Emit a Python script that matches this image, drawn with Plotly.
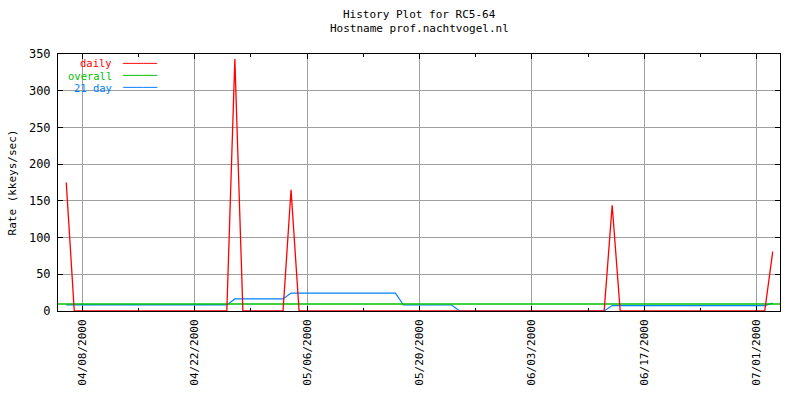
import plotly.graph_objects as go

# ---- data ----
daily_dates = ["2000-04-06", "2000-04-07", "2000-04-26", "2000-04-27", "2000-04-28",
               "2000-05-03", "2000-05-04", "2000-05-05", "2000-06-12", "2000-06-13",
               "2000-06-14", "2000-07-02", "2000-07-03"]
daily_vals = [175, 0, 0, 343, 0, 0, 165, 0, 0, 144, 0, 0, 81]

overall_dates = ["2000-04-04 23:20", "2000-07-03 21:40"]
overall_vals = [9.5, 9.5]

avg21_dates = ["2000-04-06", "2000-04-26", "2000-04-27", "2000-05-03", "2000-05-04",
               "2000-05-17", "2000-05-18", "2000-05-24", "2000-05-25", "2000-06-12",
               "2000-06-13", "2000-07-02", "2000-07-03"]
avg21_vals = [8.3, 8.3, 16.4, 16.4, 24.4, 24.4, 8.2, 8.2, 0, 0, 7.4, 7.4, 10.8]

x_range = ["2000-04-04 23:20", "2000-07-03 21:40"]
x_ticks = ["2000-04-08", "2000-04-22", "2000-05-06", "2000-05-20",
           "2000-06-03", "2000-06-17", "2000-07-01"]
y_ticks = [0, 50, 100, 150, 200, 250, 300, 350]

title_lines = ["History Plot for RC5-64", "Hostname prof.nachtvogel.nl"]
series_names = ["daily", "overall", "21 day"]
series_colors = ["#ff0000", "#00c000", "#0080ff"]

FONT = "DejaVu Sans Mono"

fig = go.Figure()
fig.add_trace(go.Scatter(x=avg21_dates, y=avg21_vals, mode="lines",
                         line=dict(color=series_colors[2], width=1.2), name=series_names[2]))
fig.add_trace(go.Scatter(x=overall_dates, y=overall_vals, mode="lines",
                         line=dict(color=series_colors[1], width=1.4), name=series_names[1]))
fig.add_trace(go.Scatter(x=daily_dates, y=daily_vals, mode="lines",
                         line=dict(color=series_colors[0], width=1.3), name=series_names[0]))

fig.update_layout(
    width=800, height=400,
    margin=dict(l=58, r=20, t=54, b=89),
    paper_bgcolor="white", plot_bgcolor="white",
    showlegend=False,
    font=dict(family=FONT, size=11, color="black"),
)

fig.update_xaxes(
    type="date", range=x_range,
    tickvals=x_ticks, tickformat="%m/%d/%Y", tickangle=-90,
    tickfont=dict(family=FONT, size=11, color="black"),
    showgrid=True, gridcolor="#a0a0a0", gridwidth=1,
    showline=True, linecolor="black", linewidth=1, mirror="ticks",
    ticks="inside", ticklen=5, tickcolor="black",
    ticklabelstandoff=3,
    minor=dict(ticks="inside", ticklen=3, tickcolor="black",
               dtick=7 * 86400000, tick0="2000-04-08", showgrid=False),
    zeroline=False,
)
fig.update_yaxes(
    range=[0, 350], tickvals=y_ticks,
    tickfont=dict(family=FONT, size=12, color="black"),
    showgrid=True, gridcolor="#a0a0a0", gridwidth=1,
    showline=True, linecolor="black", linewidth=1, mirror="ticks",
    ticks="inside", ticklen=5, tickcolor="black",
    ticklabelstandoff=4,
    zeroline=False,
    title=dict(text="Rate (kkeys/sec)", font=dict(family=FONT, size=11, color="black"),
               standoff=10),
)

# title lines
fig.add_annotation(text=title_lines[0], xref="paper", yref="paper", x=0.5, y=(311 - 14.5) / 257,
                   showarrow=False, xanchor="center", yanchor="middle",
                   font=dict(family=FONT, size=11, color="black"))
fig.add_annotation(text=title_lines[1], xref="paper", yref="paper", x=0.5, y=(311 - 28.5) / 257,
                   showarrow=False, xanchor="center", yanchor="middle",
                   font=dict(family=FONT, size=11, color="black"))

# legend box (text left, sample line right)
def px2x(px):
    return (px - 58) / 722

def py2y(py):
    return (311 - py) / 257

fig.add_shape(type="rect", xref="paper", yref="paper", x0=px2x(58.5), x1=px2x(161),
              y0=py2y(94), y1=py2y(54.5), fillcolor="white", line=dict(width=0),
              layer="between")
for i, (nm, col) in enumerate(zip(series_names, series_colors)):
    yc = py2y(63.5 + i * 12)
    fig.add_annotation(text=nm, xref="paper", yref="paper", x=px2x(114), y=yc,
                       showarrow=False, xanchor="right", yanchor="middle",
                       font=dict(family=FONT, size=10.5, color=col))
    fig.add_annotation(text="\u2500" * 5, xref="paper", yref="paper", x=px2x(120), y=yc,
                       showarrow=False, xanchor="left", yanchor="middle",
                       font=dict(family=FONT, size=11.3, color=col))

fig.write_html("out.html")
